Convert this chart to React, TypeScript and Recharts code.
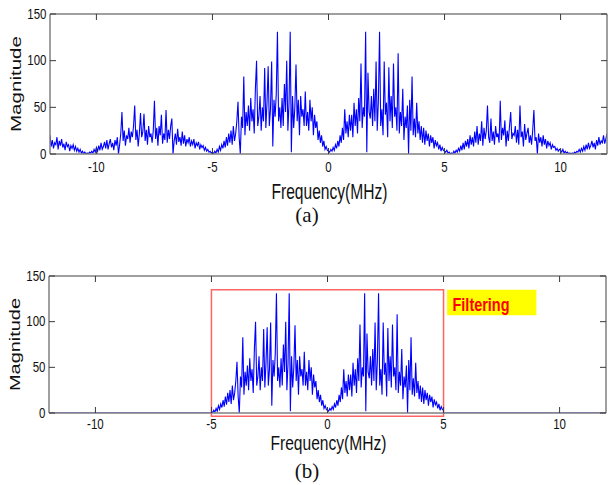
import React from 'react';
import { LineChart, Line, XAxis, YAxis, ReferenceArea } from 'recharts';

// ---------- data ----------
const FREQ_START = -12; // MHz
const FREQ_STEP = 0.05; // MHz

// magnitude, -12 ... -0.05 MHz (one row per MHz)
const magNeg: number[] = [
  20, 8, 15, 6, 12, 10, 18, 5, 14, 9, 16, 7, 11, 4, 13, 8, 10, 3, 9, 6,
  10, 4, 8, 3, 6, 2, 5, 1, 3, 0, 2, 0, 1, 0, 2, 1, 3, 1, 5, 2,
  7, 3, 9, 4, 12, 5, 8, 13, 6, 15, 5, 11, 16, 7, 12, 4, 15, 9, 18, 0,
  10, 22, 45, 14, 25, 9, 20, 16, 28, 12, 24, 18, 30, 52, 15, 26, 8, 22, 44, 18,
  24, 43, 14, 26, 10, 30, 18, 22, 12, 25, 57, 16, 28, 9, 30, 20, 42, 11, 22, 15,
  47, 12, 26, 16, 30, 38, 0, 14, 22, 10, 27, 13, 18, 9, 24, 11, 20, 8, 16, 12,
  18, 8, 14, 10, 16, 6, 12, 9, 13, 5, 10, 7, 9, 4, 7, 3, 5, 2, 3, 1,
  2, 0, 3, 1, 5, 2, 8, 4, 10, 6, 14, 7, 18, 9, 22, 12, 25, 10, 30, 14,
  22, 35, 56, 18, 0, 40, 28, 83, 20, 45, 30, 52, 25, 60, 35, 48, 22, 70, 100, 30,
  40, 62, 25, 50, 35, 92, 28, 55, 94, 30, 48, 99, 8, 58, 40, 65, 131, 35, 50, 28,
  60, 30, 75, 45, 100, 25, 55, 131, 2, 62, 28, 50, 96, 35, 58, 20, 62, 40, 48, 30,
  67, 30, 45, 25, 58, 35, 50, 20, 42, 28, 35, 15, 25, 12, 20, 8, 14, 5, 8, 4,
];

// magnitude, 0 ... 12 MHz
const magPos: number[] = [
  3, 2, 5, 3, 7, 4, 10, 6, 14, 8, 20, 12, 28, 15, 48, 22, 35, 18, 42, 25,
  42, 18, 55, 30, 48, 22, 60, 35, 97, 28, 50, 40, 131, 2, 87, 45, 38, 62, 30, 70,
  35, 99, 25, 58, 131, 30, 48, 20, 99, 42, 55, 18, 93, 35, 62, 28, 97, 40, 50, 25,
  108, 22, 45, 30, 70, 15, 40, 28, 52, 0, 58, 25, 83, 20, 38, 18, 55, 22, 35, 15,
  30, 12, 28, 10, 25, 14, 22, 8, 20, 12, 18, 6, 15, 9, 12, 5, 10, 3, 7, 4,
  3, 2, 4, 1, 2, 0, 1, 0, 3, 1, 4, 2, 6, 3, 9, 4, 12, 5, 14, 8,
  16, 6, 20, 10, 18, 8, 24, 12, 30, 10, 22, 14, 35, 9, 28, 16, 25, 52, 18, 12,
  38, 14, 24, 10, 30, 18, 22, 12, 57, 15, 28, 20, 36, 8, 25, 14, 30, 45, 16, 22,
  20, 30, 12, 26, 10, 52, 18, 24, 8, 32, 15, 22, 28, 12, 20, 10, 26, 47, 14, 18,
  0, 22, 12, 18, 8, 20, 10, 16, 6, 14, 9, 12, 5, 10, 7, 8, 4, 6, 3, 5,
  4, 2, 5, 1, 3, 1, 2, 0, 1, 0, 1, 0, 2, 1, 3, 2, 5, 2, 6, 3,
  8, 4, 10, 5, 12, 6, 9, 14, 7, 12, 5, 15, 9, 18, 10, 14, 12, 20, 11, 16,
  22,
];

const xTicks = [-10, -5, 0, 5, 10];
const yTicks = [0, 50, 100, 150];
const xDomain = [-12, 12];
const yDomain = [0, 150];
const passBand = [-5, 5];
const filterTop = 135;
const captions = ['(a)', '(b)'];
const xTitle = 'Frequency(MHz)';
const yTitle = 'Magnitude';
const filterText = 'Filtering';

const magnitude = [...magNeg, ...magPos];
const spectrum = magnitude.map((m, i) => ({
  f: Math.round((FREQ_START + i * FREQ_STEP) * 100) / 100,
  m,
}));
const filtered = spectrum.map((d) => ({
  f: d.f,
  inBand: d.f >= passBand[0] && d.f <= passBand[1] ? d.m : null,
  outBand: d.f <= passBand[0] || d.f >= passBand[1] ? 0 : null,
}));

// ---------- styles ----------
const FONT = "Arial, 'Liberation Sans', Helvetica, sans-serif";
const GRAY = '#7f7f7f';
const TICK_GRAY = '#3a3a3a';
const TICK_LEN = 6;
const W = 610;

const makeBottomTick = (labelOffset: number) => (props: any) => {
  const { x, y, payload } = props;
  return (
    <g>
      <line x1={x} y1={y} x2={x} y2={y - TICK_LEN} stroke={TICK_GRAY} strokeWidth={1} />
      <text
        transform={`translate(${x},${y + labelOffset}) scale(1,1.25)`}
        textAnchor="middle"
        fontSize={11.5}
        fontFamily={FONT}
        fill="#111"
      >
        {payload.value}
      </text>
    </g>
  );
};

const TopTick = (props: any) => {
  const { x, y } = props;
  return <line x1={x} y1={y} x2={x} y2={y + TICK_LEN} stroke={TICK_GRAY} strokeWidth={1} />;
};

const LeftTick = (props: any) => {
  const { x, y, payload } = props;
  return (
    <g>
      <line x1={x} y1={y} x2={x + TICK_LEN} y2={y} stroke={TICK_GRAY} strokeWidth={1} />
      <text
        transform={`translate(${x - 3.5},${y + 4.8}) scale(1,1.25)`}
        textAnchor="end"
        fontSize={11.5}
        fontFamily={FONT}
        fill="#111"
      >
        {payload.value}
      </text>
    </g>
  );
};

const RightTick = (props: any) => {
  const { x, y } = props;
  return <line x1={x} y1={y} x2={x - TICK_LEN} y2={y} stroke={TICK_GRAY} strokeWidth={1} />;
};

const FilterLabel = (props: any) => {
  const vb = props.viewBox || { x: 0, y: 0 };
  return (
    <text
      transform={`translate(${vb.x + 5.5},${vb.y + 21}) scale(1,1.3)`}
      fontSize={14.5}
      fontWeight="bold"
      fontFamily={FONT}
      fill="#ff0000"
      textLength={57}
      lengthAdjust="spacingAndGlyphs"
    >
      {filterText}
    </text>
  );
};

type Frame = { top: number; height: number; margin: any; yAxisWidth: number; labelOffset: number };

const topFrame: Frame = { top: 0, height: 200, margin: { top: 13, right: 2, bottom: 16, left: 0 }, yAxisWidth: 50, labelOffset: 17.5 };
const bottomFrame: Frame = { top: 262, height: 200, margin: { top: 13, right: 3, bottom: 19, left: 0 }, yAxisWidth: 49, labelOffset: 15.5 };

function renderAxes(frame: Frame) {
  const axisLine = { stroke: GRAY, strokeWidth: 1.5 };
  return [
    <XAxis
      key="xb"
      dataKey="f"
      type="number"
      domain={xDomain}
      ticks={xTicks}
      interval={0}
      allowDataOverflow
      height={30}
      tickSize={0}
      tickMargin={0}
      tickLine={false}
      axisLine={axisLine}
      tick={makeBottomTick(frame.labelOffset)}
    />,
    <XAxis
      key="xt"
      xAxisId="top"
      orientation="top"
      dataKey="f"
      type="number"
      domain={xDomain}
      ticks={xTicks}
      interval={0}
      allowDataOverflow
      height={1}
      tickSize={0}
      tickMargin={0}
      tickLine={false}
      axisLine={axisLine}
      tick={TopTick}
    />,
    <YAxis
      key="yl"
      type="number"
      domain={yDomain}
      ticks={yTicks}
      interval={0}
      allowDataOverflow
      width={frame.yAxisWidth}
      tickSize={0}
      tickMargin={0}
      tickLine={false}
      axisLine={axisLine}
      tick={LeftTick}
    />,
    <YAxis
      key="yr"
      yAxisId="right"
      orientation="right"
      type="number"
      domain={yDomain}
      ticks={yTicks}
      interval={0}
      allowDataOverflow
      width={1}
      tickSize={0}
      tickMargin={0}
      tickLine={false}
      axisLine={axisLine}
      tick={RightTick}
    />,
  ];
}

export default function App() {
  const plotTop = (fr: Frame) => fr.top + fr.margin.top + 1;
  const plotH = (fr: Frame) => fr.height - fr.margin.top - 1 - fr.margin.bottom - 30;
  const plotLeft = (fr: Frame) => fr.margin.left + fr.yAxisWidth;
  const plotW = (fr: Frame) => W - plotLeft(fr) - fr.margin.right - 1;

  return (
    <div style={{ position: 'absolute', left: 0, top: 0, width: W, height: 485, background: '#fff', overflow: 'hidden' }}>
      <div style={{ position: 'absolute', left: 0, top: topFrame.top }}>
        <LineChart width={W} height={topFrame.height} data={spectrum} margin={topFrame.margin}>
          {renderAxes(topFrame)}
          <Line
            dataKey="m"
            type="linear"
            stroke="#0000ff"
            strokeWidth={1.1}
            dot={false}
            isAnimationActive={false}
          />
        </LineChart>
      </div>

      <div style={{ position: 'absolute', left: 0, top: bottomFrame.top }}>
        <LineChart width={W} height={bottomFrame.height} data={filtered} margin={bottomFrame.margin}>
          {renderAxes(bottomFrame)}
          <ReferenceArea
            x1={passBand[0]}
            x2={passBand[1]}
            y1={-3.5}
            y2={filterTop}
            ifOverflow="visible"
            fill="none"
            fillOpacity={0}
            stroke="#ff6464"
            strokeWidth={1.5}
          />
          <ReferenceArea
            x1={5.15}
            x2={9}
            y1={107}
            y2={filterTop}
            ifOverflow="visible"
            fill="#ffff00"
            fillOpacity={1}
            stroke="none"
            label={<FilterLabel />}
          />
          <Line
            dataKey="outBand"
            type="linear"
            stroke="#7f7fff"
            strokeWidth={2}
            dot={false}
            connectNulls={false}
            isAnimationActive={false}
          />
          <Line
            dataKey="inBand"
            type="linear"
            stroke="#0000ff"
            strokeWidth={1.1}
            dot={false}
            connectNulls={false}
            isAnimationActive={false}
          />
        </LineChart>
      </div>

      <svg width={W} height={485} style={{ position: 'absolute', left: 0, top: 0, pointerEvents: 'none' }}>
        {[topFrame, bottomFrame].map((fr, i) => {
          const cx = plotLeft(fr) + plotW(fr) / 2;
          const cy = plotTop(fr) + plotH(fr) / 2;
          const axisY = plotTop(fr) + plotH(fr);
          return (
            <g key={i}>
              <text
                transform={`translate(${i === 0 ? 21 : 20},${cy}) rotate(-90)`}
                textAnchor="middle"
                fontSize={14}
                fontFamily={FONT}
                fill="#111"
                textLength={i === 0 ? 96 : 93}
                lengthAdjust="spacingAndGlyphs"
              >
                {yTitle}
              </text>
              <text
                transform={`translate(${cx + 1},${axisY + (i === 0 ? 45 : 37)}) scale(1,${i === 0 ? 1.38 : 1.28})`}
                textAnchor="middle"
                fontSize={16}
                fontFamily={FONT}
                fill="#111"
                textLength={116}
                lengthAdjust="spacingAndGlyphs"
              >
                {xTitle}
              </text>
              <text
                x={307}
                y={axisY + (i === 0 ? 68 : 65)}
                textAnchor="middle"
                fontSize={21}
                fontFamily="'Liberation Serif', 'Times New Roman', serif"
                fill="#111"
              >
                {captions[i]}
              </text>
            </g>
          );
        })}
      </svg>
    </div>
  );
}
